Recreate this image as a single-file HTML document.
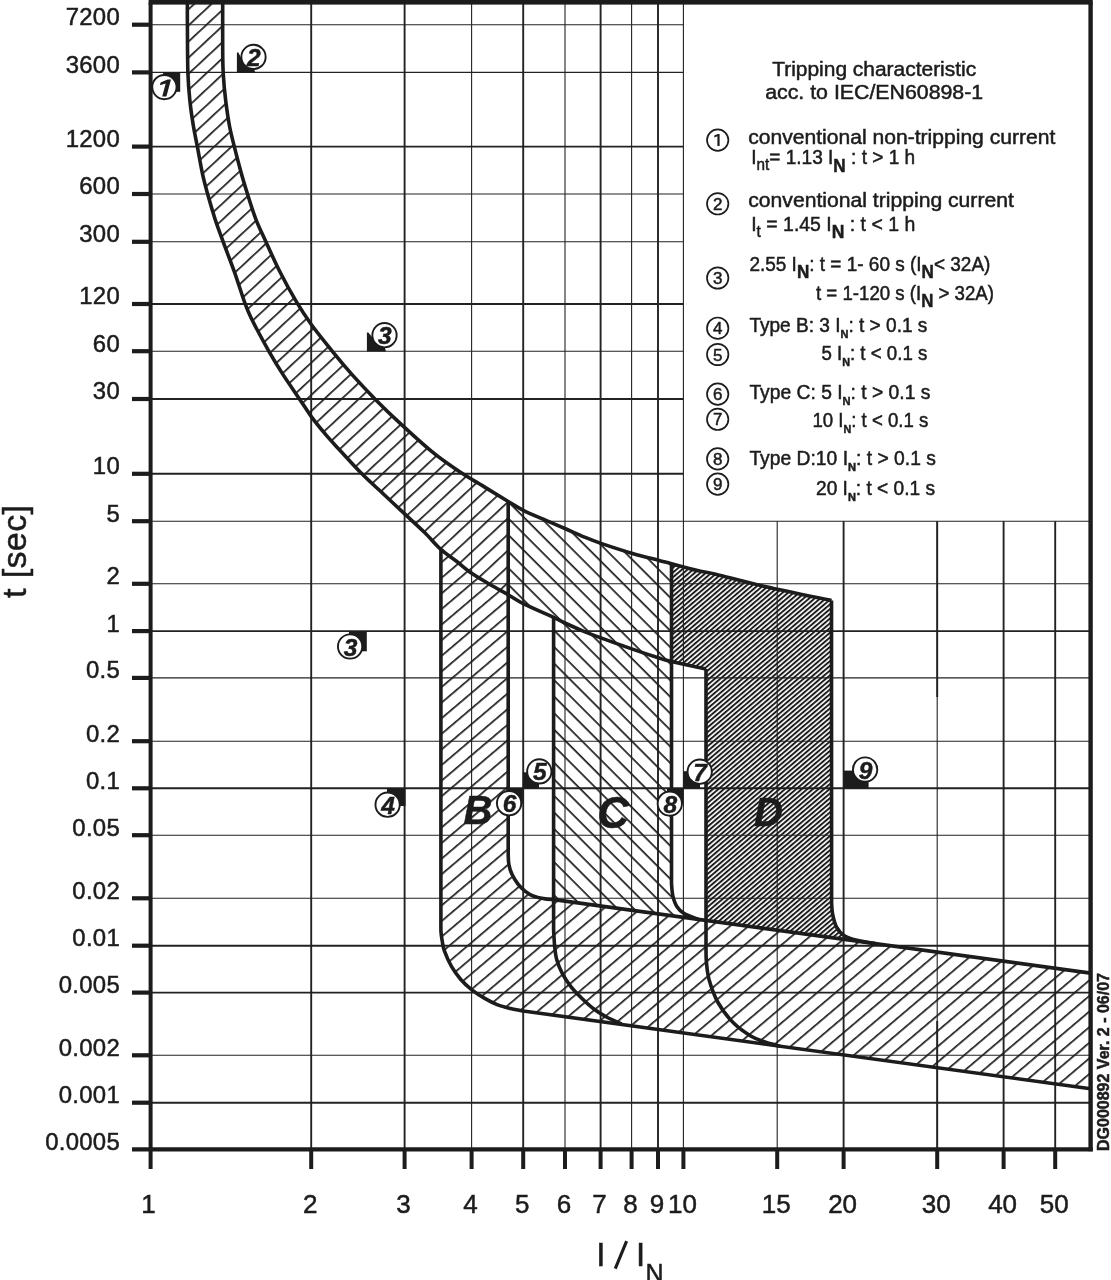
<!DOCTYPE html>
<html lang="en"><head><meta charset="utf-8"><title>Tripping characteristic acc. to IEC/EN60898-1</title>
<style>html,body{margin:0;padding:0;background:#fff}body{width:1111px;height:1280px;overflow:hidden}svg{display:block;filter:grayscale(1)}text{font-family:"Liberation Sans", sans-serif;fill:#1c1c1c;stroke:#1c1c1c;stroke-width:0.5px}</style></head><body>
<svg width="1111" height="1280" viewBox="0 0 1111 1280">
<defs>
<pattern id="hA1" patternUnits="userSpaceOnUse" width="40" height="11.8" patternTransform="translate(188 42) rotate(-43) translate(0 -0.85)"><rect x="0" y="0" width="40" height="1.7" fill="#1c1c1c"/></pattern>
<pattern id="hA2" patternUnits="userSpaceOnUse" width="40" height="11.9" patternTransform="translate(854 992.6) rotate(-40.3) translate(0 -0.85)"><rect x="0" y="0" width="40" height="1.7" fill="#1c1c1c"/></pattern>
<pattern id="hC" patternUnits="userSpaceOnUse" width="40" height="11.7" patternTransform="translate(555 664.3) rotate(45) translate(0 -0.85)"><rect x="0" y="0" width="40" height="1.7" fill="#1c1c1c"/></pattern>
<pattern id="hD" patternUnits="userSpaceOnUse" width="40" height="3.6" patternTransform="rotate(-40.4)"><rect x="0" y="0" width="40" height="1.95" fill="#1c1c1c"/></pattern>
</defs>
<rect x="0" y="0" width="1111" height="1280" fill="#fff"/>
<g stroke="#222" fill="none">
<line x1="150.6" y1="24.7" x2="683.4" y2="24.7" stroke-width="1.1"/>
<line x1="150.6" y1="72.4" x2="683.4" y2="72.4" stroke-width="1.1"/>
<line x1="150.6" y1="146.6" x2="683.4" y2="146.6" stroke-width="1.9"/>
<line x1="150.6" y1="194.0" x2="683.4" y2="194.0" stroke-width="1.1"/>
<line x1="150.6" y1="241.8" x2="683.4" y2="241.8" stroke-width="1.1"/>
<line x1="150.6" y1="304.0" x2="683.4" y2="304.0" stroke-width="1.9"/>
<line x1="150.6" y1="351.2" x2="683.4" y2="351.2" stroke-width="1.1"/>
<line x1="150.6" y1="399.0" x2="683.4" y2="399.0" stroke-width="1.9"/>
<line x1="150.6" y1="473.8" x2="683.4" y2="473.8" stroke-width="1.9"/>
<line x1="150.6" y1="521.2" x2="1090.6" y2="521.2" stroke-width="1.1"/>
<line x1="150.6" y1="583.8" x2="1090.6" y2="583.8" stroke-width="1.1"/>
<line x1="150.6" y1="631.1" x2="1090.6" y2="631.1" stroke-width="1.9"/>
<line x1="150.6" y1="677.9" x2="1090.6" y2="677.9" stroke-width="1.1"/>
<line x1="150.6" y1="741.2" x2="1090.6" y2="741.2" stroke-width="1.1"/>
<line x1="150.6" y1="788.3" x2="1090.6" y2="788.3" stroke-width="1.9"/>
<line x1="150.6" y1="835.2" x2="1090.6" y2="835.2" stroke-width="1.1"/>
<line x1="150.6" y1="898.3" x2="1090.6" y2="898.3" stroke-width="1.1"/>
<line x1="150.6" y1="945.7" x2="1090.6" y2="945.7" stroke-width="1.9"/>
<line x1="150.6" y1="992.6" x2="1090.6" y2="992.6" stroke-width="1.9"/>
<line x1="150.6" y1="1055.3" x2="1090.6" y2="1055.3" stroke-width="1.1"/>
<line x1="150.6" y1="1102.7" x2="1090.6" y2="1102.7" stroke-width="1.9"/>
<line x1="311.2" y1="2.4" x2="311.2" y2="1149.3" stroke-width="1.9"/>
<line x1="404.6" y1="2.4" x2="404.6" y2="1149.3" stroke-width="1.9"/>
<line x1="471.6" y1="2.4" x2="471.6" y2="1149.3" stroke-width="1.1"/>
<line x1="523.2" y1="2.4" x2="523.2" y2="1149.3" stroke-width="1.9"/>
<line x1="565.0" y1="2.4" x2="565.0" y2="1149.3" stroke-width="1.1"/>
<line x1="600.6" y1="2.4" x2="600.6" y2="1149.3" stroke-width="1.9"/>
<line x1="631.6" y1="2.4" x2="631.6" y2="1149.3" stroke-width="1.1"/>
<line x1="658.0" y1="2.4" x2="658.0" y2="1149.3" stroke-width="1.9"/>
<line x1="683.4" y1="2.4" x2="683.4" y2="1149.3" stroke-width="1.1"/>
<line x1="777.2" y1="521.2" x2="777.2" y2="1149.3" stroke-width="1.1"/>
<line x1="843.6" y1="521.2" x2="843.6" y2="1149.3" stroke-width="1.9"/>
<line x1="937.2" y1="521.2" x2="937.2" y2="1149.3" stroke-width="1.1"/>
<line x1="1003.6" y1="521.2" x2="1003.6" y2="1149.3" stroke-width="1.9"/>
<line x1="1055.2" y1="521.2" x2="1055.2" y2="1149.3" stroke-width="1.9"/>
<line x1="937.2" y1="521.2" x2="937.2" y2="697" stroke-width="1.9"/>
<line x1="937.2" y1="1021" x2="937.2" y2="1149.3" stroke-width="1.9"/>
</g>
<path d="M187.4 3.0 C187.4 6.7 187.3 13.3 187.4 25.0 C187.5 36.7 187.5 60.4 187.9 73.0 C188.3 85.6 189.0 92.0 189.9 100.8 C190.8 109.6 192.1 118.2 193.4 126.0 C194.7 133.8 196.0 139.4 197.5 147.4 C199.0 155.4 200.8 165.9 202.5 173.9 C204.2 181.9 205.9 187.7 208.0 195.3 C210.1 202.9 212.6 211.5 215.1 219.3 C217.6 227.1 220.0 233.1 223.2 241.9 C226.4 250.7 231.0 262.3 234.5 272.2 C238.0 282.1 241.5 293.6 244.3 301.4 C247.1 309.1 247.4 310.4 251.5 318.7 C255.6 327.0 263.5 341.7 268.8 351.1 C274.1 360.5 278.0 366.8 283.2 374.9 C288.4 382.9 295.1 392.4 299.8 399.4 C304.5 406.3 306.9 410.6 311.3 416.6 C315.7 422.6 321.5 429.6 326.4 435.4 C331.3 441.2 334.8 444.7 340.8 451.2 C346.8 457.7 355.2 467.1 362.4 474.3 C369.5 481.5 376.6 487.5 383.7 494.2 C390.8 500.9 398.5 508.1 405.2 514.4 C411.9 520.7 418.2 526.2 424.1 532.0 C430.1 537.8 435.4 544.5 440.9 549.4 C446.3 554.3 451.7 557.5 456.8 561.5 C461.9 565.5 466.2 569.5 471.7 573.3 C477.2 577.1 483.9 580.9 490.0 584.5 C496.1 588.1 505.2 593.0 508.2 594.7 L508.2 501.5 C504.4 499.2 493.6 492.6 485.5 487.6 C477.4 482.6 468.3 477.5 459.3 471.5 C450.3 465.5 441.6 459.6 431.6 451.4 C421.6 443.2 408.5 431.1 399.1 422.4 C389.7 413.7 383.2 407.3 375.4 399.4 C367.6 391.5 359.5 382.9 352.3 374.9 C345.1 366.8 339.0 359.5 332.2 351.1 C325.4 342.7 317.3 332.8 311.3 324.5 C305.3 316.2 301.5 310.3 296.2 301.4 C290.9 292.5 284.5 280.9 279.5 271.0 C274.5 261.1 269.9 250.5 266.0 241.9 C262.1 233.3 258.9 227.1 255.9 219.3 C252.9 211.5 250.4 203.3 247.9 195.3 C245.4 187.3 243.0 179.4 240.8 171.4 C238.6 163.4 236.4 155.0 234.5 147.4 C232.6 139.8 231.0 133.8 229.5 126.0 C228.0 118.2 226.8 109.6 225.7 100.8 C224.6 92.0 223.7 81.5 223.2 73.0 C222.7 64.5 222.8 61.7 222.7 50.0 C222.6 38.3 222.7 10.8 222.7 3.0 Z" fill="url(#hA1)"/>
<path d="M440.9 549.4 C443.5 551.4 451.7 557.5 456.8 561.5 C461.9 565.5 466.2 569.5 471.7 573.3 C477.2 577.1 483.9 580.9 490.0 584.5 C496.1 588.1 505.2 593.0 508.2 594.7 L508.2 854.4 C508.3 856.1 508.2 861.1 508.9 864.5 C509.5 867.9 510.6 871.4 512.1 874.6 C513.6 877.8 515.6 881.1 517.8 883.9 C519.9 886.6 522.4 889.0 525.0 891.1 C527.6 893.2 530.6 895.0 533.7 896.2 C536.8 897.5 540.7 898.1 543.8 898.6 C546.9 899.1 550.9 899.3 552.3 899.4 L1090.6 973.1 L1090.6 1088.7 L523.3 1011.0 C521.2 1010.6 514.9 1009.5 510.6 1008.5 C506.3 1007.5 502.0 1006.6 497.7 1004.9 C493.4 1003.2 489.0 1000.9 484.7 998.4 C480.4 995.9 475.8 992.9 471.8 989.8 C467.9 986.7 464.4 983.6 461.0 979.7 C457.6 975.9 454.4 971.5 451.6 966.7 C448.8 961.9 446.0 955.2 444.4 950.9 C442.8 946.6 442.8 943.9 442.2 940.8 C441.6 937.7 441.2 935.3 441.0 932.2 C440.8 929.1 440.9 923.7 440.9 922.0 Z" fill="url(#hA2)"/>
<path d="M508.2 501.5 C510.7 503.0 517.0 507.2 523.3 510.3 C529.6 513.5 539.1 517.4 546.0 520.4 C552.9 523.4 558.6 525.8 564.9 528.5 C571.2 531.2 577.9 534.4 583.8 536.8 C589.7 539.2 592.2 540.4 600.2 543.1 C608.2 545.8 622.0 550.4 631.7 553.2 C641.4 556.1 651.6 558.5 658.2 560.2 C664.8 562.0 669.3 563.1 671.5 563.7 L671.5 883.5 C671.7 885.5 671.9 891.7 672.8 895.6 C673.7 899.5 675.0 903.7 677.0 906.7 C679.0 909.8 681.0 911.8 684.6 913.9 C688.2 916.0 696.2 918.5 698.5 919.4 L553.6 899.6 L553.6 617.4 C548.5 615.1 530.9 607.4 523.3 603.6 C515.7 599.8 510.7 596.2 508.2 594.7 Z" fill="url(#hC)"/>
<path d="M671.5 563.7 C676.0 564.9 691.1 569.0 698.5 570.8 C705.9 572.5 704.4 571.5 715.6 574.2 C726.9 576.9 746.7 582.4 766.0 586.8 C785.3 591.2 820.6 598.3 831.5 600.6 L831.6 903.2 C831.8 905.0 831.8 910.3 832.6 914.2 C833.4 918.1 834.5 923.3 836.4 926.8 C838.3 930.3 840.4 933.1 844.0 935.4 C847.6 937.7 852.8 939.2 858.0 940.6 C863.2 942.0 872.2 943.1 875.0 943.6 L706.0 920.5 L706.0 669.0 C700.2 667.8 677.2 662.8 671.5 661.5 Z" fill="url(#hD)"/>
<g stroke="#1c1c1c" stroke-width="3.6" fill="none" stroke-linejoin="round" stroke-linecap="butt">
<path d="M187.4 3.0 C187.4 6.7 187.3 13.3 187.4 25.0 C187.5 36.7 187.5 60.4 187.9 73.0 C188.3 85.6 189.0 92.0 189.9 100.8 C190.8 109.6 192.1 118.2 193.4 126.0 C194.7 133.8 196.0 139.4 197.5 147.4 C199.0 155.4 200.8 165.9 202.5 173.9 C204.2 181.9 205.9 187.7 208.0 195.3 C210.1 202.9 212.6 211.5 215.1 219.3 C217.6 227.1 220.0 233.1 223.2 241.9 C226.4 250.7 231.0 262.3 234.5 272.2 C238.0 282.1 241.5 293.6 244.3 301.4 C247.1 309.1 247.4 310.4 251.5 318.7 C255.6 327.0 263.5 341.7 268.8 351.1 C274.1 360.5 278.0 366.8 283.2 374.9 C288.4 382.9 295.1 392.4 299.8 399.4 C304.5 406.3 306.9 410.6 311.3 416.6 C315.7 422.6 321.5 429.6 326.4 435.4 C331.3 441.2 334.8 444.7 340.8 451.2 C346.8 457.7 355.2 467.1 362.4 474.3 C369.5 481.5 376.6 487.5 383.7 494.2 C390.8 500.9 398.5 508.1 405.2 514.4 C411.9 520.7 418.2 526.2 424.1 532.0 C430.1 537.8 435.4 544.5 440.9 549.4 C446.3 554.3 451.7 557.5 456.8 561.5 C461.9 565.5 466.2 569.5 471.7 573.3 C477.2 577.1 483.9 580.9 490.0 584.5 C496.1 588.1 502.6 591.5 508.2 594.7 C513.8 597.9 515.7 599.8 523.3 603.6 C530.9 607.4 546.7 614.2 553.6 617.4 C560.5 620.6 559.9 620.7 564.9 623.0 C569.9 625.3 577.9 628.9 583.8 631.3 C589.7 633.7 592.2 634.7 600.2 637.6 C608.2 640.5 622.0 645.5 631.7 648.9 C641.4 652.3 651.6 655.7 658.2 657.8 C664.8 659.9 663.5 659.6 671.5 661.5 C679.5 663.4 700.2 667.8 706.0 669.0"/>
<path d="M222.7 3.0 C222.7 10.8 222.6 38.3 222.7 50.0 C222.8 61.7 222.7 64.5 223.2 73.0 C223.7 81.5 224.6 92.0 225.7 100.8 C226.8 109.6 228.0 118.2 229.5 126.0 C231.0 133.8 232.6 139.8 234.5 147.4 C236.4 155.0 238.6 163.4 240.8 171.4 C243.0 179.4 245.4 187.3 247.9 195.3 C250.4 203.3 252.9 211.5 255.9 219.3 C258.9 227.1 262.1 233.3 266.0 241.9 C269.9 250.5 274.5 261.1 279.5 271.0 C284.5 280.9 290.9 292.5 296.2 301.4 C301.5 310.3 305.3 316.2 311.3 324.5 C317.3 332.8 325.4 342.7 332.2 351.1 C339.0 359.5 345.1 366.8 352.3 374.9 C359.5 382.9 367.6 391.5 375.4 399.4 C383.2 407.3 389.7 413.7 399.1 422.4 C408.5 431.1 421.6 443.2 431.6 451.4 C441.6 459.6 450.3 465.5 459.3 471.5 C468.3 477.5 477.4 482.6 485.5 487.6 C493.6 492.6 501.9 497.7 508.2 501.5 C514.5 505.3 517.0 507.2 523.3 510.3 C529.6 513.5 539.1 517.4 546.0 520.4 C552.9 523.4 558.6 525.8 564.9 528.5 C571.2 531.2 577.9 534.4 583.8 536.8 C589.7 539.2 592.2 540.4 600.2 543.1 C608.2 545.8 622.0 550.4 631.7 553.2 C641.4 556.1 651.6 558.5 658.2 560.2 C664.8 562.0 664.8 561.9 671.5 563.7 C678.2 565.5 691.1 569.0 698.5 570.8 C705.9 572.5 704.4 571.5 715.6 574.2 C726.9 576.9 746.7 582.4 766.0 586.8 C785.3 591.2 820.6 598.3 831.5 600.6"/>
<path d="M440.9 549.4 L440.9 922.0 C440.9 923.7 440.8 929.1 441.0 932.2 C441.2 935.3 441.6 937.7 442.2 940.8 C442.8 943.9 442.8 946.6 444.4 950.9 C446.0 955.2 448.8 961.9 451.6 966.7 C454.4 971.5 457.6 975.9 461.0 979.7 C464.4 983.6 467.9 986.7 471.8 989.8 C475.8 992.9 480.4 995.9 484.7 998.4 C489.0 1000.9 493.4 1003.2 497.7 1004.9 C502.0 1006.6 506.3 1007.5 510.6 1008.5 C514.9 1009.5 521.2 1010.6 523.3 1011.0 L1090.6 1088.7"/>
<path d="M508.2 501.5 L508.2 854.4 C508.3 856.1 508.2 861.1 508.9 864.5 C509.5 867.9 510.6 871.4 512.1 874.6 C513.6 877.8 515.6 881.1 517.8 883.9 C519.9 886.6 522.4 889.0 525.0 891.1 C527.6 893.2 530.6 895.0 533.7 896.2 C536.8 897.5 540.7 898.1 543.8 898.6 C546.9 899.1 550.9 899.3 552.3 899.4 L1090.6 973.1"/>
<path d="M553.6 617.4 L553.6 930.0 C553.8 932.6 554.1 940.9 554.6 945.8 C555.1 950.7 555.4 954.8 556.7 959.5 C558.0 964.2 560.1 969.3 562.5 973.9 C564.9 978.5 568.0 982.9 571.1 986.9 C574.2 990.9 577.4 994.0 581.2 997.7 C585.0 1001.4 589.7 1005.8 593.9 1009.0 C598.1 1012.2 601.9 1014.5 606.5 1017.0 C611.1 1019.5 619.1 1022.8 621.6 1024.0"/>
<path d="M671.5 563.7 L671.5 883.5 C671.7 885.5 671.9 891.7 672.8 895.6 C673.7 899.5 675.0 903.7 677.0 906.7 C679.0 909.8 681.0 911.8 684.6 913.9 C688.2 916.0 696.2 918.5 698.5 919.4"/>
<path d="M706.0 669.0 L706.0 951.0 C706.1 952.8 705.9 957.2 706.4 962.0 C706.9 966.8 707.2 973.0 709.1 979.8 C711.0 986.5 714.0 995.4 718.0 1002.5 C722.0 1009.6 727.6 1017.0 733.1 1022.6 C738.6 1028.2 745.4 1032.8 750.7 1036.0 C756.0 1039.2 760.1 1040.3 765.0 1042.0 C769.9 1043.7 777.5 1045.5 780.0 1046.2"/>
<path d="M831.5 600.6 L831.6 903.2 C831.8 905.0 831.8 910.3 832.6 914.2 C833.4 918.1 834.5 923.3 836.4 926.8 C838.3 930.3 840.4 933.1 844.0 935.4 C847.6 937.7 852.8 939.2 858.0 940.6 C863.2 942.0 872.2 943.1 875.0 943.6"/>
</g>
<g stroke="#1c1c1c" fill="none" stroke-linecap="butt">
<rect x="148.6" y="0" width="944.2" height="4.6" fill="#1c1c1c" stroke="none"/>
<line x1="150.6" y1="2.4" x2="150.6" y2="1169.0" stroke-width="4"/>
<line x1="1090.6" y1="2.4" x2="1090.6" y2="1151.3" stroke-width="4.4"/>
<line x1="132.0" y1="1149.3" x2="1092.8" y2="1149.3" stroke-width="4.2"/>
<line x1="132" y1="24.7" x2="150.6" y2="24.7" stroke-width="4.2"/>
<line x1="132" y1="72.4" x2="150.6" y2="72.4" stroke-width="4.2"/>
<line x1="132" y1="146.6" x2="150.6" y2="146.6" stroke-width="4.2"/>
<line x1="132" y1="194.0" x2="150.6" y2="194.0" stroke-width="4.2"/>
<line x1="132" y1="241.8" x2="150.6" y2="241.8" stroke-width="4.2"/>
<line x1="132" y1="304.0" x2="150.6" y2="304.0" stroke-width="4.2"/>
<line x1="132" y1="351.2" x2="150.6" y2="351.2" stroke-width="4.2"/>
<line x1="132" y1="399.0" x2="150.6" y2="399.0" stroke-width="4.2"/>
<line x1="132" y1="473.8" x2="150.6" y2="473.8" stroke-width="4.2"/>
<line x1="132" y1="521.2" x2="150.6" y2="521.2" stroke-width="4.2"/>
<line x1="132" y1="583.8" x2="150.6" y2="583.8" stroke-width="4.2"/>
<line x1="132" y1="631.1" x2="150.6" y2="631.1" stroke-width="4.2"/>
<line x1="132" y1="677.9" x2="150.6" y2="677.9" stroke-width="4.2"/>
<line x1="132" y1="741.2" x2="150.6" y2="741.2" stroke-width="4.2"/>
<line x1="132" y1="788.3" x2="150.6" y2="788.3" stroke-width="4.2"/>
<line x1="132" y1="835.2" x2="150.6" y2="835.2" stroke-width="4.2"/>
<line x1="132" y1="898.3" x2="150.6" y2="898.3" stroke-width="4.2"/>
<line x1="132" y1="945.7" x2="150.6" y2="945.7" stroke-width="4.2"/>
<line x1="132" y1="992.6" x2="150.6" y2="992.6" stroke-width="4.2"/>
<line x1="132" y1="1055.3" x2="150.6" y2="1055.3" stroke-width="4.2"/>
<line x1="132" y1="1102.7" x2="150.6" y2="1102.7" stroke-width="4.2"/>
<line x1="311.2" y1="1149.3" x2="311.2" y2="1169" stroke-width="4"/>
<line x1="404.6" y1="1149.3" x2="404.6" y2="1169" stroke-width="4"/>
<line x1="471.6" y1="1149.3" x2="471.6" y2="1169" stroke-width="4"/>
<line x1="523.2" y1="1149.3" x2="523.2" y2="1169" stroke-width="4"/>
<line x1="565.0" y1="1149.3" x2="565.0" y2="1169" stroke-width="4"/>
<line x1="600.6" y1="1149.3" x2="600.6" y2="1169" stroke-width="4"/>
<line x1="631.6" y1="1149.3" x2="631.6" y2="1169" stroke-width="4"/>
<line x1="658.0" y1="1149.3" x2="658.0" y2="1169" stroke-width="4"/>
<line x1="683.4" y1="1149.3" x2="683.4" y2="1169" stroke-width="4"/>
<line x1="777.2" y1="1149.3" x2="777.2" y2="1169" stroke-width="4"/>
<line x1="843.6" y1="1149.3" x2="843.6" y2="1169" stroke-width="4"/>
<line x1="937.2" y1="1149.3" x2="937.2" y2="1169" stroke-width="4"/>
<line x1="1003.6" y1="1149.3" x2="1003.6" y2="1169" stroke-width="4"/>
<line x1="1055.2" y1="1149.3" x2="1055.2" y2="1169" stroke-width="4"/>
</g>
<g font-size="23.9" text-anchor="end" letter-spacing="0.3" stroke-width="0.65">
<text x="120.0" y="25.1">7200</text>
<text x="120.0" y="72.8">3600</text>
<text x="120.0" y="147.0">1200</text>
<text x="120.0" y="194.4">600</text>
<text x="120.0" y="242.2">300</text>
<text x="120.0" y="304.4">120</text>
<text x="120.0" y="351.6">60</text>
<text x="120.0" y="399.4">30</text>
<text x="120.0" y="474.2">10</text>
<text x="120.0" y="521.6">5</text>
<text x="120.0" y="584.2">2</text>
<text x="120.0" y="631.5">1</text>
<text x="120.0" y="678.3">0.5</text>
<text x="120.0" y="741.6">0.2</text>
<text x="120.0" y="788.7">0.1</text>
<text x="120.0" y="835.6">0.05</text>
<text x="120.0" y="898.7">0.02</text>
<text x="120.0" y="946.1">0.01</text>
<text x="120.0" y="993.0">0.005</text>
<text x="120.0" y="1055.7">0.002</text>
<text x="120.0" y="1103.1">0.001</text>
<text x="120.0" y="1149.7">0.0005</text>
</g>
<g font-size="26" text-anchor="middle" stroke-width="0.65">
<text x="148.6" y="1213.2">1</text>
<text x="310.2" y="1213.2">2</text>
<text x="403.6" y="1213.2">3</text>
<text x="470.6" y="1213.2">4</text>
<text x="522.2" y="1213.2">5</text>
<text x="564.0" y="1213.2">6</text>
<text x="599.6" y="1213.2">7</text>
<text x="630.6" y="1213.2">8</text>
<text x="657.0" y="1213.2">9</text>
<text x="682.4" y="1213.2">10</text>
<text x="776.2" y="1213.2">15</text>
<text x="842.6" y="1213.2">20</text>
<text x="936.2" y="1213.2">30</text>
<text x="1002.6" y="1213.2">40</text>
<text x="1054.2" y="1213.2">50</text>
</g>
<text transform="translate(26.3 598) rotate(-90)" font-size="34" stroke-width="0.9" textLength="93" lengthAdjust="spacing">t [sec]</text>
<text x="596.3" y="1266" font-size="33" stroke-width="0.7">I</text>
<line x1="615.3" y1="1268.6" x2="626.6" y2="1241.2" stroke="#1c1c1c" stroke-width="3.1"/>
<text x="636.0" y="1266" font-size="33" stroke-width="0.7">I</text>
<text x="645.6" y="1281.5" font-size="25" stroke-width="0.7">N</text>
<text transform="translate(1108.6 1151) rotate(-90)" font-size="15.6" font-weight="bold" textLength="178" lengthAdjust="spacingAndGlyphs">DG000892 Ver. 2 - 06/07</text>
<polygon points="163.1,72.4 180.2,72.4 180.2,91.8 163.1,91.8" fill="#1c1c1c"/>
<circle cx="164.4" cy="87.1" r="12.15" fill="#fff" stroke="#1c1c1c" stroke-width="1.9"/>
<polygon points="162.2,96.4 166.4,96.4 171.0,79.5 167.6,79.5 160.6,82.5 159.9,85.2 165.7,83.5" fill="#1c1c1c"/>
<polygon points="236.9,52.6 238.3,52.6 241.5,58.5 254.0,69.5 255.5,72.4 236.9,72.4" fill="#1c1c1c"/>
<circle cx="253.5" cy="56.9" r="12.15" fill="#fff" stroke="#1c1c1c" stroke-width="1.9"/>
<text x="253.9" y="65.9" font-size="24.5" font-weight="bold" font-style="italic" text-anchor="middle" stroke-width="0.3">2</text>
<polygon points="366.9,332.6 368.3,332.6 372.5,337.5 385.0,348.0 386.0,351.5 366.9,351.5" fill="#1c1c1c"/>
<circle cx="384.5" cy="335.2" r="12.15" fill="#fff" stroke="#1c1c1c" stroke-width="1.9"/>
<text x="384.9" y="344.2" font-size="24.5" font-weight="bold" font-style="italic" text-anchor="middle" stroke-width="0.3">3</text>
<polygon points="349.0,631.0 366.8,631.0 366.8,651.3 349.0,651.3" fill="#1c1c1c"/>
<circle cx="350.1" cy="646.5" r="12.15" fill="#fff" stroke="#1c1c1c" stroke-width="1.9"/>
<text x="350.5" y="655.5" font-size="24.5" font-weight="bold" font-style="italic" text-anchor="middle" stroke-width="0.3">3</text>
<polygon points="387.0,788.2 405.5,788.2 405.5,806.0 387.0,806.0" fill="#1c1c1c"/>
<circle cx="387.6" cy="804.7" r="12.15" fill="#fff" stroke="#1c1c1c" stroke-width="1.9"/>
<text x="388.0" y="813.7" font-size="24.5" font-weight="bold" font-style="italic" text-anchor="middle" stroke-width="0.3">4</text>
<polygon points="522.8,772.3 539.0,772.3 539.0,788.4 522.8,788.4" fill="#1c1c1c"/>
<circle cx="539.3" cy="771.4" r="12.15" fill="#fff" stroke="#1c1c1c" stroke-width="1.9"/>
<text x="539.7" y="780.4" font-size="24.5" font-weight="bold" font-style="italic" text-anchor="middle" stroke-width="0.3">5</text>
<polygon points="506.6,788.1 522.9,788.1 522.9,804.0 506.6,804.0" fill="#1c1c1c"/>
<circle cx="509.1" cy="803.2" r="12.15" fill="#fff" stroke="#1c1c1c" stroke-width="1.9"/>
<text x="509.5" y="812.2" font-size="24.5" font-weight="bold" font-style="italic" text-anchor="middle" stroke-width="0.3">6</text>
<polygon points="683.3,771.2 700.0,771.2 700.0,788.4 683.3,788.4" fill="#1c1c1c"/>
<circle cx="699.7" cy="771.7" r="12.15" fill="#fff" stroke="#1c1c1c" stroke-width="1.9"/>
<text x="700.1" y="780.7" font-size="24.5" font-weight="bold" font-style="italic" text-anchor="middle" stroke-width="0.3">7</text>
<polygon points="667.0,788.1 683.4,788.1 683.4,804.0 667.0,804.0" fill="#1c1c1c"/>
<circle cx="669.8" cy="803.6" r="12.15" fill="#fff" stroke="#1c1c1c" stroke-width="1.9"/>
<text x="670.2" y="812.6" font-size="24.5" font-weight="bold" font-style="italic" text-anchor="middle" stroke-width="0.3">8</text>
<polygon points="843.6,770.6 868.6,770.6 868.6,788.4 843.6,788.4" fill="#1c1c1c"/>
<circle cx="865.1" cy="769.5" r="12.15" fill="#fff" stroke="#1c1c1c" stroke-width="1.9"/>
<text x="865.5" y="778.5" font-size="24.5" font-weight="bold" font-style="italic" text-anchor="middle" stroke-width="0.3">9</text>
<text x="463.5" y="824.3" font-size="40" font-weight="bold" font-style="italic" stroke-width="0.9">B</text>
<text x="597.2" y="828.0" font-size="44" font-weight="bold" font-style="italic" stroke-width="0.9">C</text>
<text x="754.0" y="826.2" font-size="40" font-weight="bold" font-style="italic" stroke-width="0.9">D</text>
<g font-size="20" stroke-width="0.8">
<text x="874.2" y="76" text-anchor="middle" font-size="20.5" textLength="204" lengthAdjust="spacingAndGlyphs">Tripping characteristic</text>
<text x="874.2" y="99.4" text-anchor="middle" font-size="20.5" textLength="218" lengthAdjust="spacingAndGlyphs">acc. to IEC/EN60898-1</text>
<circle cx="717.7" cy="140.1" r="10.7" fill="#fff" stroke="#1c1c1c" stroke-width="1.7"/>
<polygon points="717.4,146.1 719.6,146.1 719.6,134.0 717.9,134.0 714.3,135.6 714.3,137.4 717.4,136.2" fill="#1c1c1c"/>
<text x="748.3" y="144.4" textLength="307" lengthAdjust="spacingAndGlyphs">conventional non-tripping current</text>
<text x="751.2" y="164.2" textLength="164" lengthAdjust="spacingAndGlyphs">I<tspan font-size="16" dy="6">nt</tspan><tspan dy="-6">= 1.13 I</tspan><tspan font-size="18" font-weight="bold" dy="7.5">N</tspan><tspan dy="-7.5"> : t &gt; 1 h</tspan></text>
<circle cx="717.7" cy="203.8" r="10.7" fill="#fff" stroke="#1c1c1c" stroke-width="1.7"/>
<text x="717.7" y="209.8" font-size="17" text-anchor="middle" stroke-width="0.5">2</text>
<text x="748.3" y="207.4" textLength="265.5" lengthAdjust="spacingAndGlyphs">conventional tripping current</text>
<text x="751.2" y="230.8" textLength="164" lengthAdjust="spacingAndGlyphs">I<tspan font-size="16" dy="6">t</tspan><tspan dy="-6"> = 1.45 I</tspan><tspan font-size="18" font-weight="bold" dy="7.5">N</tspan><tspan dy="-7.5"> : t &lt; 1 h</tspan></text>
<circle cx="717.7" cy="278.0" r="10.7" fill="#fff" stroke="#1c1c1c" stroke-width="1.7"/>
<text x="717.7" y="284.0" font-size="17" text-anchor="middle" stroke-width="0.5">3</text>
<text x="749.4" y="270.8" textLength="241" lengthAdjust="spacingAndGlyphs">2.55 I<tspan font-size="18" font-weight="bold" dy="7.5">N</tspan><tspan dy="-7.5">: t = 1- 60 s (I</tspan><tspan font-size="18" font-weight="bold" dy="7.5">N</tspan><tspan dy="-7.5">&lt; 32A)</tspan></text>
<text x="816" y="299.6" textLength="178" lengthAdjust="spacingAndGlyphs">t = 1-120 s (I<tspan font-size="18" font-weight="bold" dy="7.5">N</tspan><tspan dy="-7.5"> &gt; 32A)</tspan></text>
<circle cx="717.7" cy="328.2" r="10.7" fill="#fff" stroke="#1c1c1c" stroke-width="1.7"/>
<text x="717.7" y="334.2" font-size="17" text-anchor="middle" stroke-width="0.5">4</text>
<text x="749.4" y="331.8" textLength="178" lengthAdjust="spacingAndGlyphs">Type B: 3 I<tspan font-size="11.5" font-weight="bold" dy="6">N</tspan><tspan dy="-6">: t &gt; 0.1 s</tspan></text>
<circle cx="717.7" cy="354.5" r="10.7" fill="#fff" stroke="#1c1c1c" stroke-width="1.7"/>
<text x="717.7" y="360.5" font-size="17" text-anchor="middle" stroke-width="0.5">5</text>
<text x="821.4" y="359.5" textLength="106" lengthAdjust="spacingAndGlyphs">5 I<tspan font-size="11.5" font-weight="bold" dy="6">N</tspan><tspan dy="-6">: t &lt; 0.1 s</tspan></text>
<circle cx="717.7" cy="394.1" r="10.7" fill="#fff" stroke="#1c1c1c" stroke-width="1.7"/>
<text x="717.7" y="400.1" font-size="17" text-anchor="middle" stroke-width="0.5">6</text>
<text x="749.4" y="399.1" textLength="181" lengthAdjust="spacingAndGlyphs">Type C: 5 I<tspan font-size="11.5" font-weight="bold" dy="6">N</tspan><tspan dy="-6">: t &gt; 0.1 s</tspan></text>
<circle cx="717.7" cy="419.3" r="10.7" fill="#fff" stroke="#1c1c1c" stroke-width="1.7"/>
<text x="717.7" y="425.3" font-size="17" text-anchor="middle" stroke-width="0.5">7</text>
<text x="812.4" y="427.2" textLength="116" lengthAdjust="spacingAndGlyphs">10 I<tspan font-size="11.5" font-weight="bold" dy="6">N</tspan><tspan dy="-6">: t &lt; 0.1 s</tspan></text>
<circle cx="717.7" cy="458.9" r="10.7" fill="#fff" stroke="#1c1c1c" stroke-width="1.7"/>
<text x="717.7" y="464.9" font-size="17" text-anchor="middle" stroke-width="0.5">8</text>
<text x="749.4" y="465" textLength="186.5" lengthAdjust="spacingAndGlyphs">Type D:10 I<tspan font-size="11.5" font-weight="bold" dy="6">N</tspan><tspan dy="-6">: t &gt; 0.1 s</tspan></text>
<circle cx="717.7" cy="484.1" r="10.7" fill="#fff" stroke="#1c1c1c" stroke-width="1.7"/>
<text x="717.7" y="490.1" font-size="17" text-anchor="middle" stroke-width="0.5">9</text>
<text x="816" y="494.9" textLength="119" lengthAdjust="spacingAndGlyphs">20 I<tspan font-size="11.5" font-weight="bold" dy="6">N</tspan><tspan dy="-6">: t &lt; 0.1 s</tspan></text>
</g>
</svg></body></html>
